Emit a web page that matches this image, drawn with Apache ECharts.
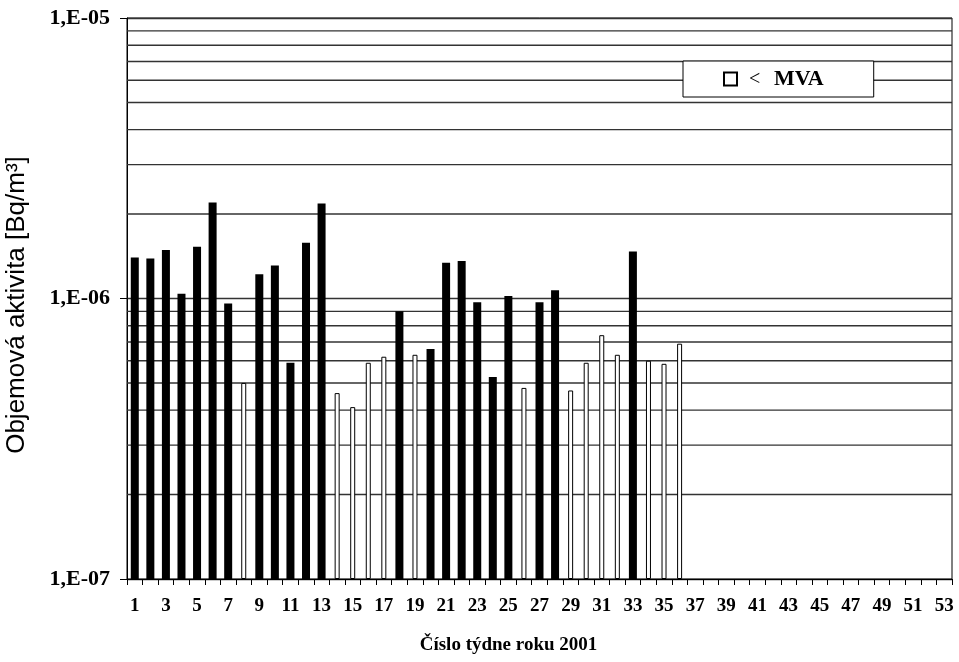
<!DOCTYPE html>
<html>
<head>
<meta charset="utf-8">
<script src="https://cdn.jsdelivr.net/npm/echarts@6/dist/echarts.min.js"></script>
<style>
  html, body { margin: 0; padding: 0; background: #fff; }
  #chart { width: 959px; height: 662px; }
</style>
</head>
<body>
<div id="chart"></div>
<script>
// Weekly volume activity, 2001 (weeks 1–53)
const weeks = ['1','2','3','4','5','6','7','8','9','10','11','12','13','14','15','16','17','18','19','20',
  '21','22','23','24','25','26','27','28','29','30','31','32','33','34','35','36','37','38','39','40',
  '41','42','43','44','45','46','47','48','49','50','51','52','53'];

// Measured values [Bq/m3] (null where the result was below MVA)
const measured = [1.40e-6, 1.39e-6, 1.49e-6, 1.04e-6, 1.53e-6, 2.20e-6, 0.96e-6, null, 1.22e-6, 1.31e-6,
  0.59e-6, 1.58e-6, 2.18e-6, null, null, null, null, 0.90e-6, null, 0.66e-6,
  1.34e-6, 1.36e-6, 0.97e-6, 0.525e-6, 1.02e-6, null, 0.97e-6, 1.07e-6, null, null,
  null, null, 1.47e-6, null, null, null];

// Values below the minimum detectable activity (MVA)
const belowMva = [null, null, null, null, null, null, null, 5.0e-7, null, null,
  null, null, null, 4.6e-7, 4.1e-7, 5.9e-7, 6.2e-7, null, 6.3e-7, null,
  null, null, null, null, null, 4.8e-7, null, null, 4.7e-7, 5.9e-7,
  7.4e-7, 6.3e-7, null, 6.0e-7, 5.85e-7, 6.9e-7];

// Axis range and gridline positions (2..9 × each decade)
const yMin = 1e-7;
const yMax = 1e-5;
const decades = [1e-7, 1e-6];
const minorSteps = [2, 3, 4, 5, 6, 7, 8, 9];
const minorGrid = [];
decades.forEach(d => minorSteps.forEach(m => minorGrid.push([0, d * m])));

const serif = 'Liberation Serif';
const gridColor = '#333';
const chart = echarts.init(document.getElementById('chart'), null, { renderer: 'canvas' });

chart.setOption({
  animation: false,
  backgroundColor: '#fff',
  grid: {
    left: 127, right: 7, top: 18, bottom: 83,
    outerBoundsMode: 'none',
    containLabel: false,
    show: true, borderColor: '#000', borderWidth: 1, backgroundColor: 'transparent'
  },
  legend: {
    data: ['<  MVA'],
    left: 683, top: 61,
    padding: [7, 50, 7, 40],
    backgroundColor: '#fff',
    borderColor: '#000', borderWidth: 1,
    itemWidth: 13, itemHeight: 13,
    icon: 'rect',
    formatter: () => '{lt|<}{t|MVA}',
    textStyle: {
      rich: {
        lt: { fontFamily: serif, fontSize: 20, color: '#000', width: 25, padding: [2, 0, 0, 7] },
        t: { fontFamily: serif, fontSize: 22, fontWeight: 'bold', color: '#000' }
      }
    }
  },
  xAxis: [{
    type: 'category',
    data: weeks,
    boundaryGap: true,
    axisLine: { lineStyle: { color: '#000', width: 1 } },
    axisTick: { show: true, interval: 0, length: 6, lineStyle: { color: '#000' } },
    axisLabel: { interval: 1, margin: 18, fontFamily: serif, fontSize: 19, fontWeight: 'bold', color: '#000' },
    name: 'Číslo týdne roku 2001',
    nameLocation: 'middle',
    nameGap: 57,
    nameTextStyle: {
      fontFamily: serif, fontSize: 19, fontWeight: 'bold', color: '#000',
      padding: [0, 62, 0, 0]
    }
  }, {
    type: 'category',
    data: weeks,
    show: false
  }],
  yAxis: {
    type: 'log',
    logBase: 10,
    min: yMin,
    max: yMax,
    startValue: yMin,
    axisLine: { show: true, lineStyle: { color: '#000', width: 1 } },
    axisTick: { show: true, inside: false, length: 7, lineStyle: { color: '#000' } },
    axisLabel: {
      margin: 17,
      fontFamily: serif, fontSize: 22, fontWeight: 'bold', color: '#000',
      formatter: v => '1,E-0' + (-Math.round(Math.log10(v)))
    },
    splitLine: { show: true, lineStyle: { color: gridColor, width: 1.4 } },
    name: 'Objemová aktivita [Bq/m³]',
    nameLocation: 'middle',
    nameGap: 97,
    nameTextStyle: {
      fontFamily: 'Liberation Sans', fontSize: 26, color: '#000',
      padding: [0, 13, 0, 0]
    }
  },
  series: [{
    // minor horizontal gridlines spanning the plot, behind the bars
    name: 'grid',
    type: 'custom',
    xAxisIndex: 0,
    z: 1,
    silent: true,
    clip: true,
    data: minorGrid,
    renderItem: (params, api) => {
      const y = api.coord([0, api.value(1)])[1];
      const cs = params.coordSys;
      return {
        type: 'line',
        shape: { x1: cs.x, y1: y, x2: cs.x + cs.width, y2: y },
        style: { stroke: gridColor, lineWidth: 1.4 }
      };
    }
  }, {
    name: 'měřeno',
    type: 'bar',
    xAxisIndex: 0,
    data: measured,
    barWidth: 8,
    z: 3,
    itemStyle: { color: '#000' }
  }, {
    name: '<  MVA',
    type: 'bar',
    xAxisIndex: 1,
    data: belowMva,
    barWidth: 5,
    z: 3,
    itemStyle: { color: '#fff', borderColor: '#000', borderWidth: 1 }
  }]
});
</script>
</body>
</html>
